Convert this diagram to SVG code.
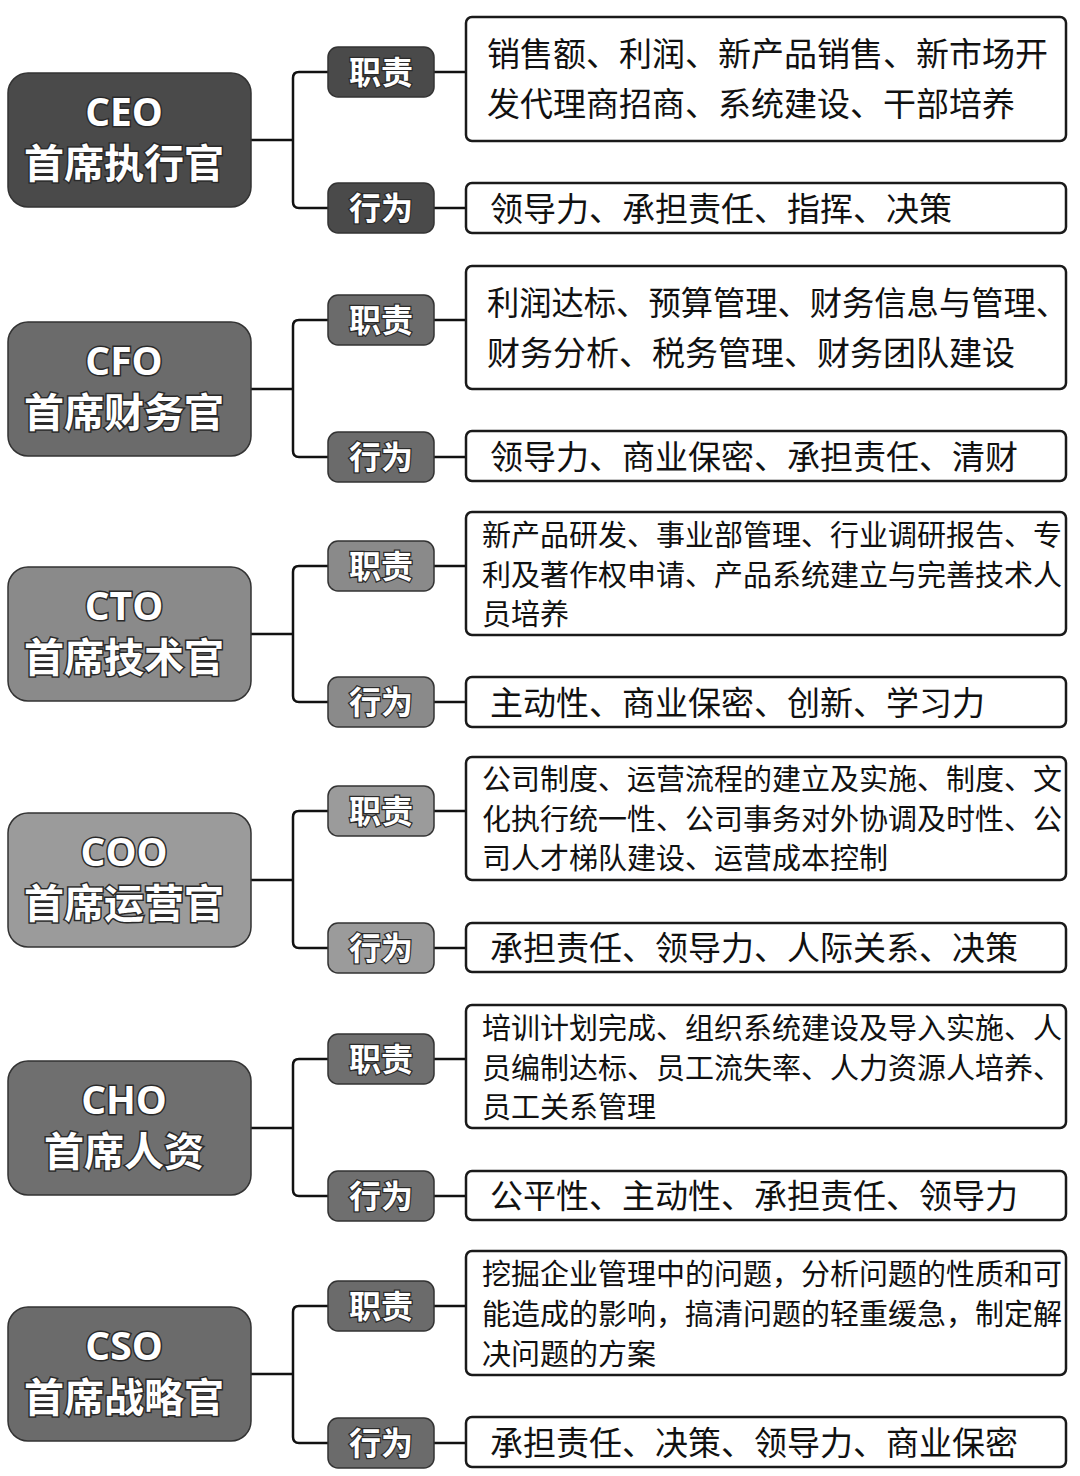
<svg xmlns="http://www.w3.org/2000/svg" width="1080" height="1476" viewBox="0 0 1080 1476">
<style>
.bg{fill:#ffffff}
.main{stroke:#333;stroke-width:1.5}
.tag{stroke:#333;stroke-width:1.5}
.box{fill:#fff;stroke:#1a1a1a;stroke-width:2.5}
.mt{font-family:"Open Sans","DejaVu Sans",sans-serif;font-weight:bold;font-size:39px;fill:#fff;stroke:#2a2a2a;stroke-width:3;paint-order:stroke;text-anchor:middle}
.mc{font-family:"Noto Sans CJK SC",sans-serif;font-weight:bold;font-size:40px;fill:#fff;stroke:#2a2a2a;stroke-width:3;paint-order:stroke;text-anchor:middle}
.tt{font-family:"Noto Sans CJK SC",sans-serif;font-weight:bold;font-size:32px;fill:#fff;stroke:#2a2a2a;stroke-width:2.5;paint-order:stroke;text-anchor:middle}
.t33{font-family:"Noto Sans CJK SC",sans-serif;font-size:33px;fill:#111}
.t29{font-family:"Noto Sans CJK SC",sans-serif;font-size:29px;fill:#111}
.conn path{fill:none;stroke:#111;stroke-width:2.5}
</style>
<rect class="bg" x="0" y="0" width="1080" height="1476"/>

<g class="conn" id="connectors">
<path d="M251 140H293M299 72H330M293 78V202M299 208H330M293 78Q293 72 299 72M293 202Q293 208 299 208M434 72H466M434 208H466"/>
<path d="M251 389H293M299 320H330M293 326V451M299 457H330M293 326Q293 320 299 320M293 451Q293 457 299 457M434 320H466M434 457H466"/>
<path d="M251 634H293M299 566H330M293 572V696M299 702H330M293 572Q293 566 299 566M293 696Q293 702 299 702M434 566H466M434 702H466"/>
<path d="M251 880H293M299 811H330M293 817V942M299 948H330M293 817Q293 811 299 811M293 942Q293 948 299 948M434 811H466M434 948H466"/>
<path d="M251 1128H293M299 1059H330M293 1065V1190M299 1196H330M293 1065Q293 1059 299 1059M293 1190Q293 1196 299 1196M434 1059H466M434 1196H466"/>
<path d="M251 1374H293M299 1306H330M293 1312V1437M299 1443H330M293 1312Q293 1306 299 1306M293 1437Q293 1443 299 1443M434 1306H466M434 1443H466"/>
</g>

<!-- CEO -->
<g id="ceo">
<rect class="main" x="8" y="73" width="243" height="134" rx="20" fill="#4a4a4a"/>
<text class="mt" x="124" y="126">CEO</text>
<text class="mc" x="124" y="178">首席执行官</text>
</g>
<g id="ceo-duty">
<rect class="tag" x="328" y="47" width="106" height="50" rx="10" fill="#4a4a4a"/>
<text class="tt" x="381" y="84">职责</text>
</g>
<g id="ceo-act">
<rect class="tag" x="328" y="183" width="106" height="50" rx="10" fill="#4a4a4a"/>
<text class="tt" x="381" y="220">行为</text>
</g>
<g id="ceo-duty-box">
<rect class="box" x="466" y="17" width="600" height="124" rx="6"/>
<text class="t33" x="487" y="66">销售额、利润、新产品销售、新市场开</text>
<text class="t33" x="487" y="116">发代理商招商、系统建设、干部培养</text>
</g>
<g id="ceo-act-box">
<rect class="box" x="466" y="183" width="600" height="50" rx="6"/>
<text class="t33" x="490" y="221">领导力、承担责任、指挥、决策</text>
</g>

<!-- CFO -->
<g id="cfo">
<rect class="main" x="8" y="322" width="243" height="134" rx="20" fill="#6b6b6b"/>
<text class="mt" x="124" y="375">CFO</text>
<text class="mc" x="124" y="427">首席财务官</text>
</g>
<g id="cfo-duty">
<rect class="tag" x="328" y="295" width="106" height="50" rx="10" fill="#6b6b6b"/>
<text class="tt" x="381" y="332">职责</text>
</g>
<g id="cfo-act">
<rect class="tag" x="328" y="432" width="106" height="50" rx="10" fill="#6b6b6b"/>
<text class="tt" x="381" y="469">行为</text>
</g>
<g id="cfo-duty-box">
<rect class="box" x="466" y="266" width="600" height="123" rx="6"/>
<text class="t33" x="487" y="315" textLength="581" lengthAdjust="spacingAndGlyphs">利润达标、预算管理、财务信息与管理、</text>
<text class="t33" x="487" y="365">财务分析、税务管理、财务团队建设</text>
</g>
<g id="cfo-act-box">
<rect class="box" x="466" y="431" width="600" height="50" rx="6"/>
<text class="t33" x="490" y="469">领导力、商业保密、承担责任、清财</text>
</g>

<!-- CTO -->
<g id="cto">
<rect class="main" x="8" y="567" width="243" height="134" rx="20" fill="#8a8a8a"/>
<text class="mt" x="124" y="620">CTO</text>
<text class="mc" x="124" y="672">首席技术官</text>
</g>
<g id="cto-duty">
<rect class="tag" x="328" y="541" width="106" height="50" rx="10" fill="#8a8a8a"/>
<text class="tt" x="381" y="578">职责</text>
</g>
<g id="cto-act">
<rect class="tag" x="328" y="677" width="106" height="50" rx="10" fill="#8a8a8a"/>
<text class="tt" x="381" y="714">行为</text>
</g>
<g id="cto-duty-box">
<rect class="box" x="466" y="512" width="600" height="123" rx="6"/>
<text class="t29" x="482" y="546">新产品研发、事业部管理、行业调研报告、专</text>
<text class="t29" x="482" y="586">利及著作权申请、产品系统建立与完善技术人</text>
<text class="t29" x="482" y="625">员培养</text>
</g>
<g id="cto-act-box">
<rect class="box" x="466" y="677" width="600" height="50" rx="6"/>
<text class="t33" x="490" y="715">主动性、商业保密、创新、学习力</text>
</g>

<!-- COO -->
<g id="coo">
<rect class="main" x="8" y="813" width="243" height="134" rx="20" fill="#9b9b9b"/>
<text class="mt" x="124" y="866">COO</text>
<text class="mc" x="124" y="918">首席运营官</text>
</g>
<g id="coo-duty">
<rect class="tag" x="328" y="786" width="106" height="50" rx="10" fill="#9b9b9b"/>
<text class="tt" x="381" y="823">职责</text>
</g>
<g id="coo-act">
<rect class="tag" x="328" y="923" width="106" height="50" rx="10" fill="#9b9b9b"/>
<text class="tt" x="381" y="960">行为</text>
</g>
<g id="coo-duty-box">
<rect class="box" x="466" y="757" width="600" height="123" rx="6"/>
<text class="t29" x="482" y="790">公司制度、运营流程的建立及实施、制度、文</text>
<text class="t29" x="482" y="830">化执行统一性、公司事务对外协调及时性、公</text>
<text class="t29" x="482" y="869">司人才梯队建设、运营成本控制</text>
</g>
<g id="coo-act-box">
<rect class="box" x="466" y="923" width="600" height="49" rx="6"/>
<text class="t33" x="490" y="960">承担责任、领导力、人际关系、决策</text>
</g>

<!-- CHO -->
<g id="cho">
<rect class="main" x="8" y="1061" width="243" height="134" rx="20" fill="#6f6f6f"/>
<text class="mt" x="124" y="1114">CHO</text>
<text class="mc" x="124" y="1166">首席人资</text>
</g>
<g id="cho-duty">
<rect class="tag" x="328" y="1034" width="106" height="50" rx="10" fill="#6f6f6f"/>
<text class="tt" x="381" y="1071">职责</text>
</g>
<g id="cho-act">
<rect class="tag" x="328" y="1171" width="106" height="50" rx="10" fill="#6f6f6f"/>
<text class="tt" x="381" y="1208">行为</text>
</g>
<g id="cho-duty-box">
<rect class="box" x="466" y="1005" width="600" height="123" rx="6"/>
<text class="t29" x="482" y="1039">培训计划完成、组织系统建设及导入实施、人</text>
<text class="t29" x="482" y="1079">员编制达标、员工流失率、人力资源人培养、</text>
<text class="t29" x="482" y="1118">员工关系管理</text>
</g>
<g id="cho-act-box">
<rect class="box" x="466" y="1171" width="600" height="49" rx="6"/>
<text class="t33" x="490" y="1208">公平性、主动性、承担责任、领导力</text>
</g>

<!-- CSO -->
<g id="cso">
<rect class="main" x="8" y="1307" width="243" height="134" rx="20" fill="#6b6b6b"/>
<text class="mt" x="124" y="1360">CSO</text>
<text class="mc" x="124" y="1412">首席战略官</text>
</g>
<g id="cso-duty">
<rect class="tag" x="328" y="1281" width="106" height="50" rx="10" fill="#6b6b6b"/>
<text class="tt" x="381" y="1318">职责</text>
</g>
<g id="cso-act">
<rect class="tag" x="328" y="1418" width="106" height="50" rx="10" fill="#6b6b6b"/>
<text class="tt" x="381" y="1455">行为</text>
</g>
<g id="cso-duty-box">
<rect class="box" x="466" y="1251" width="600" height="124" rx="6"/>
<text class="t29" x="482" y="1285">挖掘企业管理中的问题，分析问题的性质和可</text>
<text class="t29" x="482" y="1325">能造成的影响，搞清问题的轻重缓急，制定解</text>
<text class="t29" x="482" y="1365">决问题的方案</text>
</g>
<g id="cso-act-box">
<rect class="box" x="466" y="1417" width="600" height="50" rx="6"/>
<text class="t33" x="490" y="1455">承担责任、决策、领导力、商业保密</text>
</g>
</svg>
